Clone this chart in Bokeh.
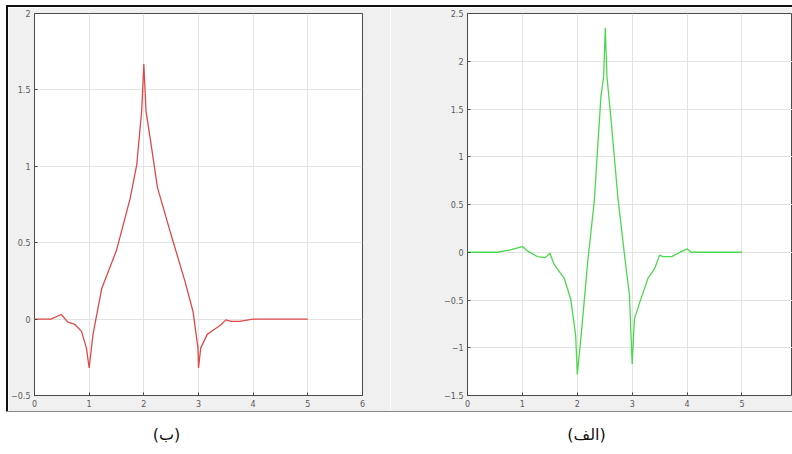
from bokeh.plotting import figure
from bokeh.layouts import column, row
from bokeh.models import Range1d, Label, FixedTicker, InlineStyleSheet
from bokeh.embed import file_html
from bokeh.resources import INLINE

# ---- data: left panel (ب), red curve
red_x = [0.0, 0.3, 0.49, 0.61, 0.74, 0.86, 0.95, 1.0, 1.07, 1.23, 1.5, 1.75, 1.87, 1.96, 2.0,
         2.04, 2.13, 2.25, 2.5, 2.75, 2.9, 2.99, 3.0, 3.04, 3.16, 3.28, 3.4, 3.5, 3.6, 3.75, 4.0, 5.0]
red_y = [0.0, 0.0, 0.03, -0.02, -0.035, -0.08, -0.19, -0.32, -0.1, 0.2, 0.45, 0.79, 1.01, 1.36, 1.67,
         1.36, 1.15, 0.86, 0.55, 0.25, 0.05, -0.19, -0.32, -0.19, -0.1, -0.07, -0.04, -0.005, -0.015, -0.015, 0.0, 0.0]

# ---- data: right panel (الف), green curve
green_x = [0.0, 0.54, 0.78, 1.0, 1.09, 1.27, 1.42, 1.5, 1.58, 1.76, 1.88, 1.97, 2.0, 2.07, 2.19, 2.31,
           2.43, 2.48, 2.51, 2.54, 2.61, 2.74, 2.86, 2.95, 3.0, 3.04, 3.14, 3.29, 3.41, 3.5, 3.56, 3.72,
           3.9, 4.0, 4.08, 5.0]
green_y = [0.0, 0.0, 0.025, 0.06, 0.015, -0.045, -0.056, -0.01, -0.13, -0.27, -0.49, -0.87, -1.28, -0.87,
           -0.1, 0.54, 1.63, 1.84, 2.35, 1.84, 1.42, 0.57, -0.03, -0.45, -1.17, -0.7, -0.52, -0.27, -0.17,
           -0.03, -0.045, -0.045, 0.007, 0.035, 0.0, 0.0]

x_ticks = [0, 1, 2, 3, 4, 5, 6]
left_y_ticks = [-0.5, 0, 0.5, 1, 1.5, 2]
right_y_ticks = [-1.5, -1, -0.5, 0, 0.5, 1, 1.5, 2, 2.5]

label_left = "(ب)"
label_right = "(الف)"

BG = "#f0f0f0"
TICK_COLOR = "#5a5a5a"


def style_axis(ax):
    ax.axis_line_color = None
    ax.major_tick_in = 3
    ax.major_tick_out = 0
    ax.major_tick_line_color = "#444444"
    ax.minor_tick_line_color = None
    ax.major_label_standoff = 4
    ax.major_label_text_font_size = "8px"
    ax.major_label_text_color = TICK_COLOR
    ax.major_label_text_font = "DejaVu Sans"


def make_panel(width, height, xr, yr, yticks, borders):
    p = figure(width=width, height=height, x_range=Range1d(*xr), y_range=Range1d(*yr),
               output_backend="svg", toolbar_location=None,
               min_border_left=borders[0], min_border_right=borders[1],
               min_border_top=borders[2], min_border_bottom=borders[3])
    p.background_fill_color = "white"
    p.border_fill_color = BG
    p.outline_line_color = "#4a4a4a"
    p.outline_line_width = 1
    p.xaxis.ticker = FixedTicker(ticks=x_ticks)
    p.yaxis.ticker = FixedTicker(ticks=yticks)
    style_axis(p.xaxis[0])
    style_axis(p.yaxis[0])
    p.xgrid.grid_line_color = "#e3e3e3"
    p.ygrid.grid_line_color = "#e3e3e3"
    p.xgrid.ticker = FixedTicker(ticks=x_ticks)
    p.ygrid.ticker = FixedTicker(ticks=yticks)
    return p


pl = make_panel(382, 404, (0, 6), (-0.5, 2), left_y_ticks, (26, 28, 5, 16))
pl.line(red_x, red_y, line_color="#e04848", line_width=1.3)

pr = make_panel(402, 404, (0, 5.92), (-1.5, 2.5), right_y_ticks, (77, 0, 6, 16))
pr.line(green_x, green_y, line_color="#4cd84c", line_width=1.3)

frame_css = InlineStyleSheet(css=":host { outline: 2px solid #111111; }")
top_row = row(pl, pr, margin=(7, 0, 0, 8), stylesheets=[frame_css])

lab = figure(width=792, height=42, output_backend="svg", toolbar_location=None,
             x_range=Range1d(0, 792), y_range=Range1d(0, 42),
             min_border=0, margin=(0, 0, 0, 0))
lab.axis.visible = False
lab.grid.visible = False
lab.outline_line_color = None
lab.background_fill_color = "white"
lab.border_fill_color = "white"
lab.add_layout(Label(x=166, y=19, x_units="screen", y_units="screen", text=label_left,
                     text_font="DejaVu Sans", text_font_size="16px", text_align="center",
                     text_baseline="middle", text_color="#111111"))
lab.add_layout(Label(x=586, y=19, x_units="screen", y_units="screen", text=label_right,
                     text_font="DejaVu Sans", text_font_size="16px", text_align="center",
                     text_baseline="middle", text_color="#111111"))

layout = column(top_row, lab, spacing=0)

open("out.html", "w").write(file_html(layout, INLINE))
